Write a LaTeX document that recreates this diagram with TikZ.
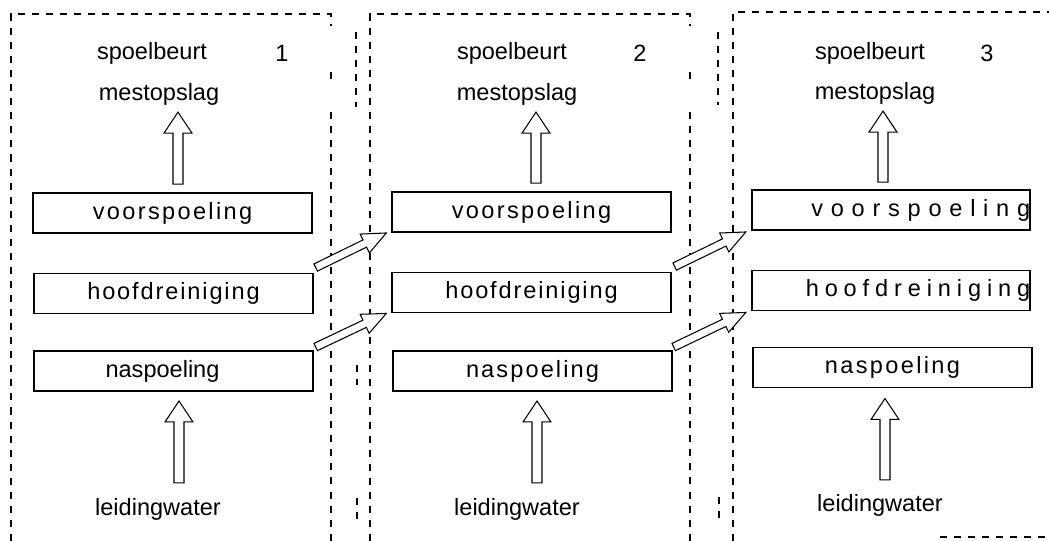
\documentclass[tikz,border=0pt]{standalone}
\usepackage{fontspec}
\setmainfont{Liberation Sans}
\usetikzlibrary{calc}

\begin{document}
\begin{tikzpicture}[x=0.02cm, y=-0.02cm,
    txt/.style={font=\fontsize{13.4}{16}\selectfont, inner sep=1pt},
    stage/.style={draw, line width=1.1pt, minimum width=5.57cm, minimum height=0.8cm, inner sep=0pt, font=\fontsize{13.4}{16}\selectfont\addfontfeature{LetterSpace=#1}},
    stage/.default=0,
    rstage/.style={stage=#1, text width=5.57cm, align=right},
    push/.style={execute at begin node={\hspace*{#1}}},
    frame/.style={line width=1.1pt, dash pattern=on 4pt off 4pt},
    ba shaft/.store in=\bashaft, ba head/.store in=\bahead, ba len/.store in=\balen,
    blockarr/.style={draw, fill=white, line width=0.6pt, to path={
        ($(\tikztostart)!\bashaft!90:(\tikztotarget)$)
        -- ($(\tikztotarget)!\balen!(\tikztostart)!\bashaft!-90:(\tikztostart)$)
        -- ($(\tikztotarget)!\balen!(\tikztostart)!\bahead!-90:(\tikztostart)$)
        -- (\tikztotarget)
        -- ($(\tikztotarget)!\balen!(\tikztostart)!\bahead!90:(\tikztostart)$)
        -- ($(\tikztotarget)!\balen!(\tikztostart)!\bashaft!90:(\tikztostart)$)
        -- ($(\tikztostart)!\bashaft!-90:(\tikztotarget)$) -- cycle}},
    uparr/.style={blockarr, ba shaft=0.1cm, ba head=0.28cm, ba len=0.42cm},
    fwdarr/.style={blockarr, ba shaft=0.08cm, ba head=0.21cm, ba len=0.48cm}
]
\path[fill=white, use as bounding box] (0,0) rectangle (1049,541);

\draw[frame] (11,541) -- (11,14) -- (331,14) -- (331,26);
\draw[frame] (331,72) -- (331,82) (331,112) -- (331,541);
\draw[frame] (356,32) -- (356,107) (357,365) -- (357,385) (357,498) -- (357,520);
\draw[frame] (370,541) -- (370,14) -- (690,14) -- (690,26);
\draw[frame] (690,72) -- (690,82) (690,112) -- (690,541);
\draw[frame] (718,32) -- (718,105) (719,497) -- (719,520);
\draw[frame] (733,541) -- (733,12) -- (1049,12);
\draw[frame] (940,537) -- (1049,537);

\node[txt] (beurt1) at (152,53) {spoelbeurt};
\node[txt] (nr1) at (282,53) {1};
\node[txt] (mest1) at (159,94) {mestopslag};
\node[stage=10] (voor1) at (172.5,213) {voorspoeling};
\node[stage=8] (hoofd1) at (173.5,293.5) {hoofdreiniging};
\node[stage, push=-0.44cm] (na1) at (173.5,371) {naspoeling};
\node[txt] (water1) at (158,509) {leidingwater};

\node[txt] (beurt2) at (512,53) {spoelbeurt};
\node[txt] (nr2) at (640,53) {2};
\node[txt] (mest2) at (517,94) {mestopslag};
\node[stage=10] (voor2) at (531.5,212) {voorspoeling};
\node[stage=8] (hoofd2) at (531.5,292.5) {hoofdreiniging};
\node[stage=9] (na2) at (532.5,371) {naspoeling};
\node[txt] (water2) at (517,509) {leidingwater};

\node[txt] (beurt3) at (870,53) {spoelbeurt};
\node[txt] (nr3) at (987,53) {3};
\node[txt] (mest3) at (875,93) {mestopslag};
\node[rstage=33] (voor3) at (891,210) {voorspoeling};
\node[rstage=25] (hoofd3) at (891,290.5) {hoofdreiniging};
\node[stage=10] (na3) at (892.5,367.5) {naspoeling};
\node[txt] (water3) at (880,505) {leidingwater};

\draw[uparr] ([shift={(5.5,-8)}]voor1.north) to ([shift={(19,5)}]mest1.south);
\draw[uparr] ([shift={(21,-13)}]water1.north) to ([shift={(5.5,9)}]na1.south);
\draw[uparr] ([shift={(4.5,-8)}]voor2.north) to ([shift={(19,5)}]mest2.south);
\draw[uparr] ([shift={(20,-13)}]water2.north) to ([shift={(4.5,9)}]na2.south);
\draw[uparr] ([shift={(-8,-7)}]voor3.north) to ([shift={(8,5)}]mest3.south);
\draw[uparr] ([shift={(5,-12)}]water3.north) to ([shift={(-7.5,10)}]na3.south);

\draw[fwdarr] ([shift={(2,-5)}]hoofd1.north east) to ([shift={(-5,0)}]voor2.south west);
\draw[fwdarr] ([shift={(2,-3)}]na1.north east) to ([shift={(-5,0)}]hoofd2.south west);
\draw[fwdarr] ([shift={(3,-5)}]hoofd2.north east) to ([shift={(-5,1)}]voor3.south west);
\draw[fwdarr] ([shift={(1,-3)}]na2.north east) to ([shift={(-5,1)}]hoofd3.south west);
\end{tikzpicture}
\end{document}
